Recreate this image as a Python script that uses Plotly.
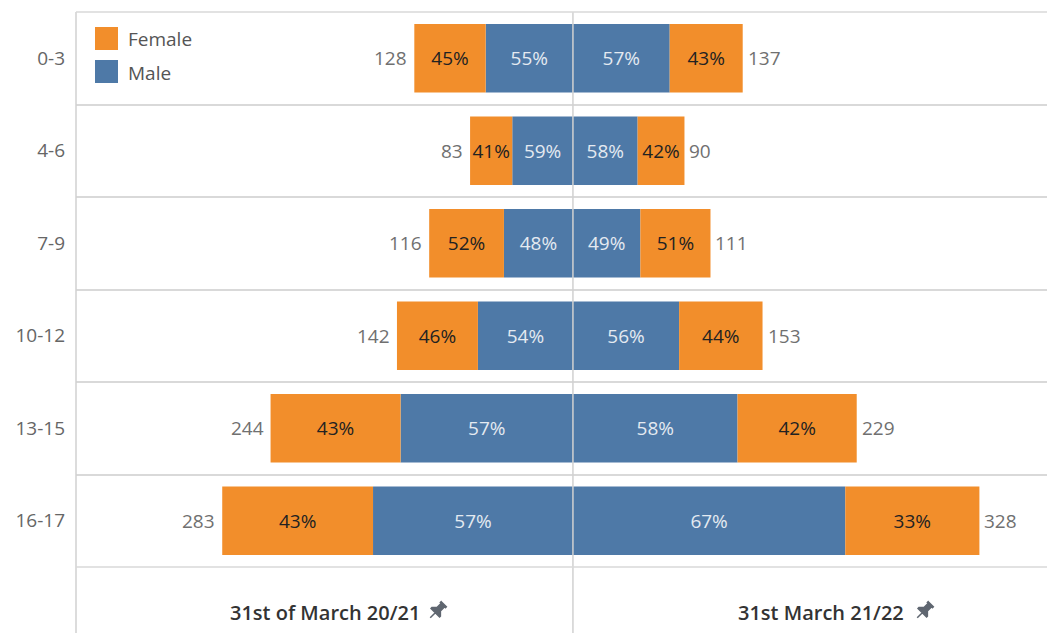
import math
import plotly.graph_objects as go

# ---------------- data ----------------
age_groups = ["0-3", "4-6", "7-9", "10-12", "13-15", "16-17"]
total_2021 = [128, 83, 116, 142, 244, 283]
male_pct_2021 = [55, 59, 48, 54, 57, 57]
female_pct_2021 = [45, 41, 52, 46, 43, 43]
total_2122 = [137, 90, 111, 153, 229, 328]
male_pct_2122 = [57, 58, 49, 56, 58, 67]
female_pct_2122 = [43, 42, 51, 44, 42, 33]
period_labels = ["31st of March 20/21", "31st March 21/22"]
series_names = ["Female", "Male"]

# ---------------- style ----------------
ORANGE = "#F28E2B"
BLUE = "#4E79A7"
GRID = "#d9d9d9"
FONT = "Open Sans"
BODY = 8  # page body margin
# plot area in page pixels
PL, PR, PT, PB = 76, 1055, 12, 567
PAGE_W, PAGE_H = 1055, 633
W, H = PAGE_W, PAGE_H - BODY
ML, MR, MT, MB = PL - BODY, PAGE_W + BODY - PR, PT - BODY, PAGE_H - PB
PW, PH = PR - PL, PB - PT


def px(xp):
    return (xp - PL) / PW


def py(yp):
    return (PB - yp) / PH


male_2021 = [t * p / 100 for t, p in zip(total_2021, male_pct_2021)]
female_2021 = [t - m for t, m in zip(total_2021, male_2021)]
male_2122 = [t * p / 100 for t, p in zip(total_2122, male_pct_2122)]
female_2122 = [t - m for t, m in zip(total_2122, male_2122)]

fig = go.Figure()

bar_common = dict(orientation="h", textposition="inside", insidetextanchor="middle",
                  constraintext="none", textangle=0, marker_line_width=0,
                  showlegend=False, hoverinfo="skip")

fig.add_trace(go.Bar(y=age_groups, x=[-v for v in male_2021], marker_color=BLUE,
                     text=[f"{p}%" for p in male_pct_2021],
                     insidetextfont=dict(color="#e4eaf1", size=19, family=FONT),
                     name="Male", **bar_common))
fig.add_trace(go.Bar(y=age_groups, x=male_2122, marker_color=BLUE,
                     text=[f"{p}%" for p in male_pct_2122],
                     insidetextfont=dict(color="#e4eaf1", size=19, family=FONT),
                     name="Male", **bar_common))
fig.add_trace(go.Bar(y=age_groups, x=[-v for v in female_2021], marker_color=ORANGE,
                     text=[f"{p}%" for p in female_pct_2021],
                     insidetextfont=dict(color="#222222", size=19, family=FONT),
                     name="Female", **bar_common))
fig.add_trace(go.Bar(y=age_groups, x=female_2122, marker_color=ORANGE,
                     text=[f"{p}%" for p in female_pct_2122],
                     insidetextfont=dict(color="#222222", size=19, family=FONT),
                     name="Female", **bar_common))

annotations = []
# totals beside bars
for cat, t in zip(age_groups, total_2021):
    annotations.append(dict(xref="x", yref="y", x=-t, y=cat, xanchor="right",
                            yanchor="middle", xshift=-5, text=str(t), showarrow=False,
                            font=dict(color="#707070", size=19, family=FONT)))
for cat, t in zip(age_groups, total_2122):
    annotations.append(dict(xref="x", yref="y", x=t, y=cat, xanchor="left",
                            yanchor="middle", xshift=3, text=str(t), showarrow=False,
                            font=dict(color="#707070", size=19, family=FONT)))

shapes = []
ybot = py(PAGE_H)
# center line and left border
shapes.append(dict(type="line", xref="x", yref="paper", x0=0, x1=0, y0=ybot, y1=1,
                   line=dict(color="#d0d0d0", width=1.5)))
shapes.append(dict(type="line", xref="paper", yref="paper", x0=0, x1=0, y0=ybot, y1=1,
                   line=dict(color="#d0d0d0", width=1.5)))
shapes.append(dict(type="line", xref="paper", yref="paper", x0=0, x1=1, y0=1, y1=1,
                   line=dict(color=GRID, width=1.5)))
shapes.append(dict(type="line", xref="paper", yref="paper", x0=0, x1=1, y0=0, y1=0,
                   line=dict(color=GRID, width=1.5)))

# legend squares
for (col, top) in [(ORANGE, 27), (BLUE, 60)]:
    shapes.append(dict(type="rect", xref="paper", yref="paper",
                       x0=px(95), x1=px(118), y0=py(top + 23), y1=py(top),
                       fillcolor=col, line=dict(width=0)))


def pin_path(cx, cy, s=1.0):
    pts = [(-3, -8), (3, -8), (3, -7), (2, -7), (2, -2), (5, 1), (5, 2), (-5, 2),
           (-5, 1), (-2, -2), (-2, -7), (-3, -7)]
    th = math.radians(45)

    def tr(x, y):
        x, y = x * s, y * s
        xr = x * math.cos(th) - y * math.sin(th)
        yr = x * math.sin(th) + y * math.cos(th)
        return px(cx + xr), py(cy + yr)

    d = ""
    for i, (x, y) in enumerate(pts):
        X, Y = tr(x, y)
        d += ("M" if i == 0 else "L") + f"{X:.5f},{Y:.5f} "
    d += "Z "
    X0, Y0 = tr(0, 2)
    X1, Y1 = tr(0, 8)
    d += f"M{X0:.5f},{Y0:.5f} L{X1:.5f},{Y1:.5f}"
    return d


for cx in (437, 924):
    shapes.append(dict(type="path", xref="paper", yref="paper",
                       path=pin_path(cx, 611, 1.2),
                       fillcolor="#5f6670", line=dict(color="#5f6670", width=1.5)))

for name, top in zip(series_names, [39, 73]):
    annotations.append(dict(xref="paper", yref="paper", x=px(126), y=py(top),
                            xanchor="left", yanchor="middle", text=name, showarrow=False,
                            font=dict(color="#555555", size=19, family=FONT)))
for lab, cx in zip(period_labels, [325, 821]):
    annotations.append(dict(xref="paper", yref="paper", x=px(cx), y=py(612),
                            xanchor="center", yanchor="middle", text=lab, showarrow=False,
                            font=dict(color="#333333", size=20, family=FONT, weight=600)))

fig.update_layout(
    width=W, height=H,
    margin=dict(l=ML, r=MR, t=MT, b=MB),
    barmode="relative", bargap=0.26,
    plot_bgcolor="white", paper_bgcolor="white",
    xaxis=dict(range=[-401, 389], showticklabels=False, showgrid=False, zeroline=False,
               fixedrange=True),
    yaxis=dict(type="category", categoryorder="array", categoryarray=age_groups,
               autorange="reversed", tickson="boundaries", showgrid=True, gridcolor=GRID,
               gridwidth=1.5, ticks="", ticklabelstandoff=10,
               tickfont=dict(color="#666666", size=19, family=FONT), fixedrange=True),
    shapes=shapes, annotations=annotations,
    font=dict(family=FONT),
)

fig.write_html("out.html")
